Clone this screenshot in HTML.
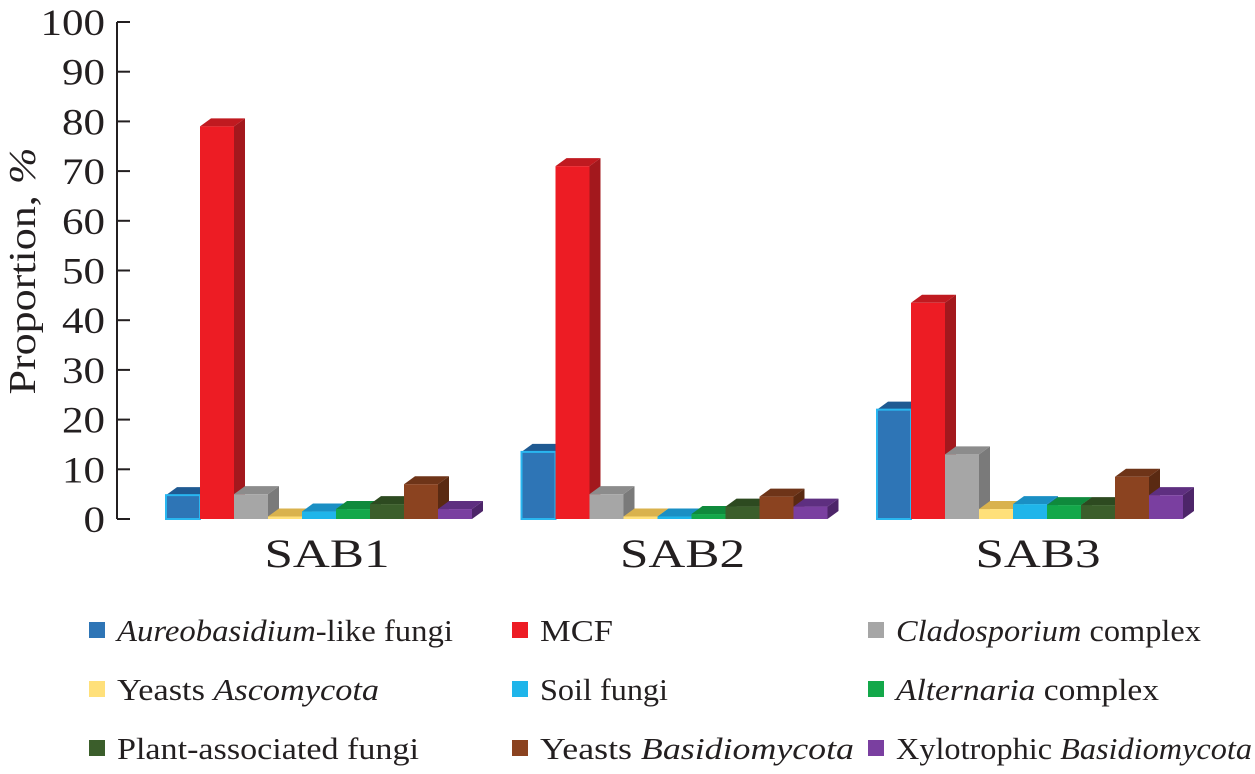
<!DOCTYPE html>
<html><head><meta charset="utf-8"><style>
body{margin:0;background:#fff;}
svg text{font-family:"Liberation Serif",serif;fill:#231f20;}
</style></head><body>
<svg id="chart" width="1255" height="769" xmlns="http://www.w3.org/2000/svg">
<g id="axis"></g>
<g id="bars"></g>
<g id="cats"></g>
<text transform="translate(35,271) rotate(-90)" text-anchor="middle" font-size="38" textLength="247" lengthAdjust="spacingAndGlyphs">Proportion, <tspan font-style="italic">%</tspan></text>
<g id="legend"></g>
</svg>
<script>
const categories=["SAB1","SAB2","SAB3"];
const aureo=[4.8,13.5,22];
const mcf=[79,71,43.5];
const clado=[5,5,13];
const yeastAsc=[0.5,0.5,2];
const soil=[1.5,0.5,3];
const alt=[2,1,2.8];
const plant=[3,2.5,2.8];
const yeastBas=[7,4.5,8.5];
const xylo=[2,2.5,4.8];
const yTicks=[0,10,20,30,40,50,60,70,80,90,100];
const seriesNames=["aureobasidium","mcf","cladosporium","yeasts-ascomycota","soil-fungi","alternaria","plant-associated","yeasts-basidiomycota","xylotrophic"];
const series=[aureo,mcf,clado,yeastAsc,soil,alt,plant,yeastBas,xylo];
const colors=[["#2e75b6","#1f5a92","#1d4f80"],["#ed1c24","#c01a20","#a3181d"],["#a6a6a6","#8c8c8c","#7a7a7a"],["#ffe07a","#d9b24d","#c9a040"],["#1fb5ea","#1a8fc4","#157aa8"],["#13a84a","#0f8a3c","#0c7533"],["#3b5e2b","#2d4a20","#263f1b"],["#8b4320","#6e3418","#5a2a12"],["#7a3fa0","#5e2f80","#4d2569"]];
const ns="http://www.w3.org/2000/svg";
const y0=519,y100=22;
const y=v=>y0-(y0-y100)*v/100;
const groupX=i=>166+i*355.5, bw=34, dx=11, dy=8;
function mk(t,a,p){const e=document.createElementNS(ns,t);for(const k in a)e.setAttribute(k,a[k]);p.appendChild(e);return e;}
const ax=document.getElementById('axis');
const axLine=mk('line',{x1:117,x2:117,y1:y(0),y2:y(100),stroke:'#231f20','stroke-width':2},ax);


yTicks.forEach(t=>{
 const l=mk('line',{x1:117,x2:130,y1:y(t),y2:y(t),stroke:'#231f20','stroke-width':2},ax);
 
 
 const w=String(t).length*21.5;
 const tx=mk('text',{x:105,y:y(t)+13,'text-anchor':'end','font-size':37,textLength:w,lengthAdjust:'spacingAndGlyphs'},ax);
 
 
 tx.textContent=t;
});
const bg=document.getElementById('bars');
categories.forEach((c,gi)=>{
 series.forEach((s,si)=>{
  const x=groupX(gi)+si*bw, v=s[gi], top=y(v), col=colors[si];
  const g=mk('g',{},bg);
  
  
  mk('polygon',{points:`${x+bw},${top} ${x+bw+dx},${top-dy} ${x+bw+dx},${y0-dy} ${x+bw},${y0}`,fill:col[2]},g);
  mk('polygon',{points:`${x},${top} ${x+dx},${top-dy} ${x+bw+dx},${top-dy} ${x+bw},${top}`,fill:col[1]},g);
  mk('rect',{x:x,y:top,width:bw,height:y0-top,fill:col[0],stroke:si==0?'#29b6f0':'none','stroke-width':si==0?2:0},g);
 });
 const t=mk('text',{x:groupX(gi)+161,y:567,'text-anchor':'middle','font-size':40,textLength:125,lengthAdjust:'spacingAndGlyphs'},document.getElementById('cats'));
 
 
 t.textContent=c;
});
const legendItems=[
 ['<tspan font-style="italic">Aureobasidium</tspan>-like fungi',336],['MCF',73],['<tspan font-style="italic">Cladosporium</tspan> complex',305],
 ['Yeasts <tspan font-style="italic">Ascomycota</tspan>',262],['Soil fungi',128],['<tspan font-style="italic">Alternaria</tspan>  complex',263],
 ['Plant-associated fungi',302],['Yeasts <tspan font-style="italic">Basidiomycota</tspan>',314],['Xylotrophic <tspan font-style="italic">Basidiomycota</tspan>',356]];
const lg=document.getElementById('legend');
const colX=[89,512,868], rowY=[630,689,748];
legendItems.forEach((it,i)=>{
 const cx=colX[i%3], cy=rowY[Math.floor(i/3)];
 const g=mk('g',{},lg);
 
 
 mk('rect',{x:cx,y:cy-8,width:16,height:16,fill:colors[i][0]},g);
 const t=mk('text',{x:cx+28,y:cy+11,'font-size':31,textLength:it[1],lengthAdjust:'spacingAndGlyphs'},g);
 t.innerHTML=it[0];
});
</script>
</body></html>
